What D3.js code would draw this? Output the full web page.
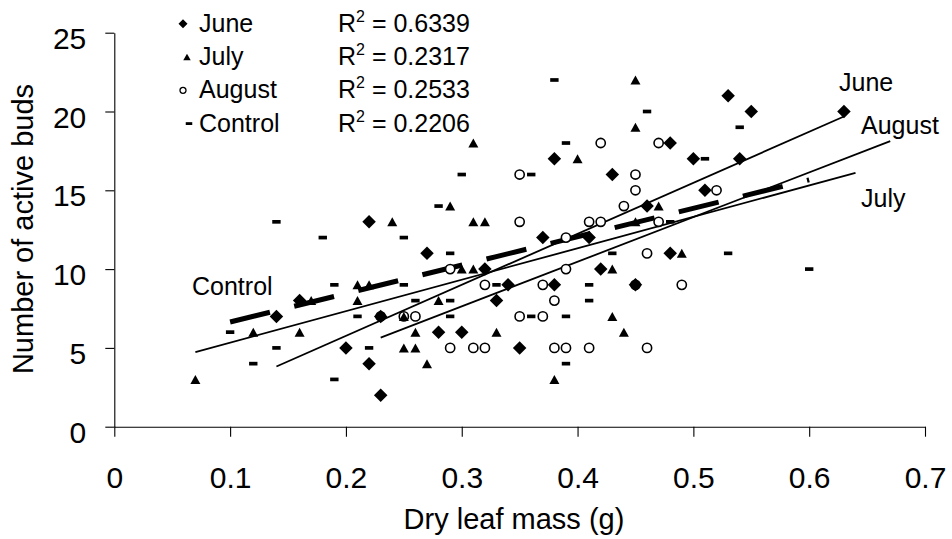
<!DOCTYPE html>
<html>
<head>
<meta charset="utf-8">
<script src="https://cdn.jsdelivr.net/npm/d3@7"></script>
<style>
  body { margin: 0; background: #fff; }
  text { font-family: Arial, "Liberation Sans", sans-serif; fill: #000; }
</style>
</head>
<body>
<script>
// series names and R2 values shown in the legend
const seriesNames = ['June', 'July', 'August', 'Control'];
const r2Labels = ['0.6339', '0.2317', '0.2533', '0.2206'];

// June (diamonds)
const juneX = [0.14, 0.16, 0.22, 0.22, 0.23, 0.20, 0.27, 0.28, 0.30, 0.23, 0.33, 0.34, 0.35, 0.32, 0.38,
  0.48, 0.50, 0.43, 0.51, 0.46, 0.37, 0.41, 0.48, 0.42, 0.38, 0.45, 0.53, 0.55, 0.63, 0.54];
const juneY = [7, 8, 13, 4, 2, 5, 11, 6, 6, 7, 8, 9, 5, 10, 17,
  18, 17, 16, 15, 14, 12, 12, 11, 10, 9, 9, 21, 20, 20, 17];

// July (triangles)
const julyX = [0.07, 0.12, 0.16, 0.17, 0.31, 0.29, 0.24, 0.31, 0.32, 0.30, 0.31, 0.21, 0.22, 0.21, 0.28, 0.25,
  0.26, 0.25, 0.26, 0.27, 0.33, 0.45, 0.45, 0.40, 0.47, 0.49, 0.43, 0.45, 0.43, 0.44, 0.38];
const julyY = [3, 6, 6, 8, 18, 14, 13, 13, 13, 10, 10, 9, 9, 8, 8, 7,
  6, 5, 5, 4, 6, 22, 19, 17, 14, 11, 10, 13, 7, 6, 3];

// August (open circles)
const augustX = [0.32, 0.25, 0.26, 0.29, 0.31, 0.32, 0.35, 0.29, 0.35, 0.42, 0.47, 0.45, 0.45, 0.44, 0.35, 0.41,
  0.42, 0.47, 0.39, 0.46, 0.39, 0.52, 0.37, 0.38, 0.37, 0.49, 0.45, 0.38, 0.39, 0.41, 0.46, 0.23];
const augustY = [9, 7, 7, 5, 5, 5, 7, 10, 16, 18, 18, 16, 15, 14, 13, 13,
  13, 13, 12, 11, 10, 15, 9, 8, 7, 9, 9, 5, 5, 5, 5, 7];

// Control (short bars)
const controlX = [0.14, 0.10, 0.14, 0.12, 0.18, 0.25, 0.28, 0.30, 0.29, 0.19, 0.25, 0.21, 0.22, 0.19, 0.26, 0.29, 0.29,
  0.33, 0.38, 0.46, 0.39, 0.51, 0.36, 0.43, 0.48, 0.41, 0.41, 0.36, 0.39, 0.39, 0.54, 0.53, 0.60];
const controlY = [13, 6, 5, 4, 12, 12, 14, 16, 11, 9, 9, 7, 5, 3, 8, 8, 7,
  9, 22, 20, 18, 17, 16, 11, 13, 9, 8, 7, 7, 4, 19, 11, 10];

// linear trendlines (June, July, August, Control)
const trendSlope = [32.37, 19.95, 28.34, 18.04];
const trendIntercept = [-0.71, 3.34, -0.87, 4.84];
const trendFrom = [0.14, 0.07, 0.23, 0.10];
const trendTo = [0.63, 0.64, 0.67, 0.60];

const xTicks = [0, 0.1, 0.2, 0.3, 0.4, 0.5, 0.6, 0.7];
const yTicks = [0, 5, 10, 15, 20, 25];

const width = 952,
  height = 539;

const x = d3.scaleLinear().domain([0, 0.7]).range([114.3, 925]);
const y = d3.scaleLinear().domain([0, 25]).range([426.7, 32.7]);

const svg = d3
  .select('body')
  .append('svg')
  .attr('width', width)
  .attr('height', height);

// marker shapes
const diamond = {
  draw(ctx, size) {
    const r = Math.sqrt(size) / 2;
    ctx.moveTo(0, -r);
    ctx.lineTo(r, 0);
    ctx.lineTo(0, r);
    ctx.lineTo(-r, 0);
    ctx.closePath();
  }
};
const triangle = {
  draw(ctx, size) {
    const r = Math.sqrt(size) / 2;
    ctx.moveTo(0, -r * 0.9);
    ctx.lineTo(r, r * 0.9);
    ctx.lineTo(-r, r * 0.9);
    ctx.closePath();
  }
};
const bar = {
  draw(ctx, size) {
    const w = Math.sqrt(size);
    ctx.rect(-w / 2, -w * 0.22, w, w * 0.44);
  }
};

const styles = [
  { type: diamond, size: 13.5 * 13.5, legendSize: 9 * 9, fill: '#000', stroke: 'none' },
  { type: triangle, size: 100, legendSize: 56, fill: '#000', stroke: 'none' },
  { type: d3.symbolCircle, size: Math.PI * 4.6 * 4.6, legendSize: Math.PI * 3 * 3, fill: '#fff', stroke: '#000' },
  { type: bar, size: 8.4 * 8.4, legendSize: 6.5 * 6.5, fill: '#000', stroke: 'none' }
];

// axes
const xAxis = svg
  .append('g')
  .attr('transform', `translate(0,${y(0)})`)
  .call(d3.axisBottom(x).tickValues(xTicks).tickFormat(d3.format('')).tickSize(10).tickSizeOuter(0));
xAxis.selectAll('text').attr('dy', null).attr('y', 61).style('font-size', '30px');

const yAxis = svg
  .append('g')
  .attr('transform', `translate(${x(0)},0)`)
  .call(d3.axisLeft(y).tickValues(yTicks).tickSize(9).tickPadding(19).tickSizeOuter(0));
yAxis.selectAll('text').attr('dy', '0.52em').style('font-size', '30px');

svg.selectAll('.domain, .tick line').attr('stroke', '#000').attr('stroke-width', 1.1);

svg
  .append('text')
  .attr('x', 514)
  .attr('y', 528.5)
  .attr('text-anchor', 'middle')
  .style('font-size', '29px')
  .text('Dry leaf mass (g)');

svg
  .append('text')
  .attr('transform', 'translate(33,229) rotate(-90)')
  .attr('text-anchor', 'middle')
  .style('font-size', '29px')
  .text('Number of active buds');

// trendlines
const trends = seriesNames.map((name, i) => ({
  name,
  x1: trendFrom[i],
  x2: trendTo[i],
  y1: trendIntercept[i] + trendSlope[i] * trendFrom[i],
  y2: trendIntercept[i] + trendSlope[i] * trendTo[i],
  control: name === 'Control'
}));

svg
  .selectAll('.trend')
  .data(trends)
  .enter()
  .append('line')
  .attr('class', 'trend')
  .attr('x1', d => x(d.x1))
  .attr('y1', d => y(d.y1))
  .attr('x2', d => x(d.x2))
  .attr('y2', d => y(d.y2))
  .attr('stroke', '#000')
  .attr('stroke-width', d => (d.control ? 5 : 1.8))
  .attr('stroke-dasharray', d => (d.control ? '41,25' : null));

// points (August first so the filled markers sit on top of the circles)
const seriesX = [juneX, julyX, augustX, controlX];
const seriesY = [juneY, julyY, augustY, controlY];
const drawOrder = [2, 1, 0, 3];

drawOrder.forEach(i => {
  const s = styles[i];
  const pts = seriesX[i].map((v, j) => [v, seriesY[i][j]]);
  svg
    .append('g')
    .selectAll('path')
    .data(pts)
    .enter()
    .append('path')
    .attr('transform', d => `translate(${x(d[0])},${y(d[1])})`)
    .attr('d', d3.symbol().type(s.type).size(s.size))
    .attr('fill', s.fill)
    .attr('stroke', s.stroke)
    .attr('stroke-width', 1.6);
});

// legend
const legendMarkerX = [183, 187, 183, 189];
const legend = svg
  .selectAll('.legend')
  .data(seriesNames)
  .enter()
  .append('g')
  .attr('class', 'legend')
  .attr('transform', (d, i) => `translate(0,${31.7 + i * 33.3})`);

legend
  .append('path')
  .attr('transform', (d, i) => `translate(${legendMarkerX[i]},-8)`)
  .attr('d', (d, i) => d3.symbol().type(styles[i].type).size(styles[i].legendSize)())
  .attr('fill', (d, i) => styles[i].fill)
  .attr('stroke', (d, i) => styles[i].stroke)
  .attr('stroke-width', 1.3);

legend
  .append('text')
  .attr('x', 199)
  .style('font-size', '25px')
  .text(d => d);

const r2 = legend
  .append('text')
  .attr('x', 338)
  .style('font-size', '25px');
r2.append('tspan').text('R');
r2.append('tspan').attr('dy', -10).style('font-size', '16px').text('2');
r2.append('tspan').attr('dy', 10).text((d, i) => ' = ' + r2Labels[i]);

// trendline labels
const trendLabels = [
  { text: 'June', px: 839, py: 90.7 },
  { text: 'August', px: 861, py: 134 },
  { text: 'July', px: 861, py: 206.7 },
  { text: 'Control', px: 192, py: 295 }
];
svg
  .selectAll('.tlabel')
  .data(trendLabels)
  .enter()
  .append('text')
  .attr('class', 'tlabel')
  .attr('x', d => d.px)
  .attr('y', d => d.py)
  .style('font-size', '25px')
  .text(d => d.text);
</script>
</body>
</html>
